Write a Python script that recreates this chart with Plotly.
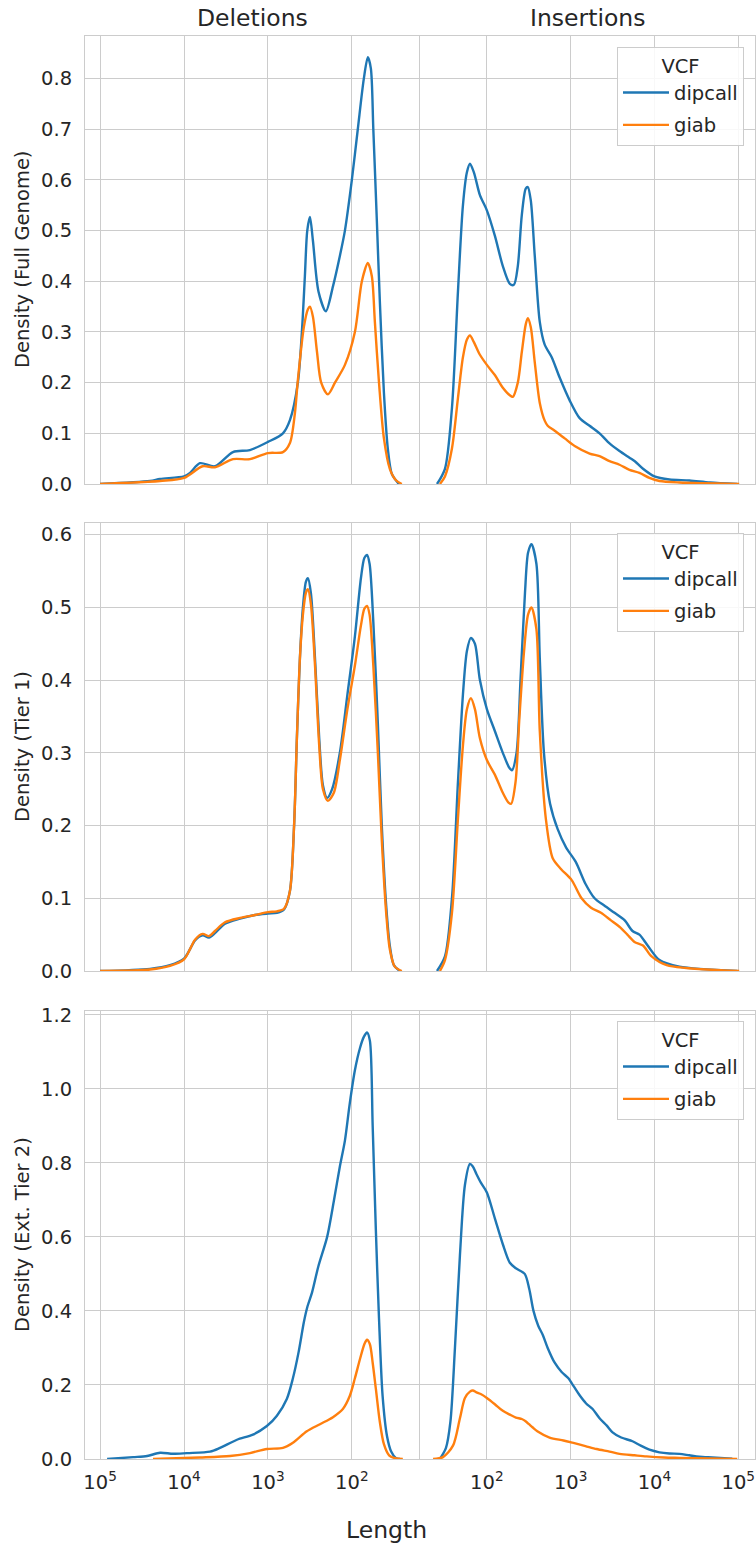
import plotly.graph_objects as go

# ---------------------------------------------------------------------------
# Kernel density estimates of SV lengths (bp) for two call sets, read per
# region: Full Genome, Tier 1 and Ext. Tier 2.  Deletions / insertions.
# ---------------------------------------------------------------------------

# ---- Full Genome ----------------------------------------------------------
full_del_len_dipcall = [100000, 25400, 19300, 10000, 8480, 6460, 4280, 2610, 1640, 1000, 663, 547,
                        440, 394, 363, 340, 316, 291, 250, 204, 168, 139, 121, 100, 85, 72, 64.5,
                        59.4, 55.5, 50.4, 46.4, 41.5, 37.3, 33.4, 27.5]
full_del_dipcall = [0.0, 0.006, 0.010, 0.015, 0.022, 0.041, 0.035, 0.063, 0.067, 0.083, 0.100, 0.126,
                    0.20, 0.30, 0.41, 0.50, 0.527, 0.48, 0.38, 0.341, 0.39, 0.45, 0.50, 0.60, 0.70,
                    0.80, 0.842, 0.82, 0.70, 0.52, 0.36, 0.18, 0.07, 0.02, 0.0]

full_del_len_giab = [100000, 19300, 10000, 6000, 4280, 2610, 1640, 1000, 663, 547, 477, 440, 373,
                     334, 316, 291, 260, 232, 193, 159, 121, 92, 76, 64.5, 57.8, 53.2, 47.5, 41.5,
                     35.3, 30, 25.4]
full_del_giab = [0.0, 0.006, 0.012, 0.035, 0.033, 0.049, 0.049, 0.061, 0.063, 0.081, 0.14, 0.205,
                 0.31, 0.345, 0.35, 0.33, 0.26, 0.20, 0.177, 0.20, 0.235, 0.30, 0.40, 0.436, 0.41,
                 0.32, 0.20, 0.09, 0.03, 0.008, 0.0]

full_ins_len_dipcall = [25.4, 31.6, 38.3, 45.2, 51.8, 57.8, 62.8, 70, 82.6, 100, 124.5, 155, 188,
                        210, 234, 261, 291, 308, 334, 373, 428, 490, 594, 739, 973, 1280, 1683,
                        2213, 2910, 3828, 5035, 5830, 7300, 10000, 15100, 26100, 46000, 97300]
full_ins_dipcall = [0.0, 0.03, 0.15, 0.38, 0.55, 0.615, 0.632, 0.615, 0.57, 0.54, 0.49, 0.43, 0.395,
                    0.393, 0.43, 0.53, 0.583, 0.586, 0.56, 0.45, 0.32, 0.275, 0.25, 0.21, 0.165,
                    0.13, 0.115, 0.10, 0.08, 0.065, 0.052, 0.045, 0.03, 0.015, 0.009, 0.007, 0.003,
                    0.0]

full_ins_len_giab = [27.5, 31.6, 38.3, 45.2, 51.8, 57.8, 62.8, 70, 82.6, 100, 124.5, 155, 188, 204,
                     234, 261, 291, 308, 334, 373, 428, 490, 532, 645, 849, 1117, 1683, 2213, 2910,
                     3828, 5035, 6620, 8710, 11480, 19860, 102700]
full_ins_giab = [0.0, 0.015, 0.07, 0.17, 0.25, 0.285, 0.293, 0.28, 0.255, 0.235, 0.215, 0.19, 0.175,
                 0.172, 0.20, 0.26, 0.315, 0.327, 0.31, 0.24, 0.16, 0.125, 0.115, 0.105, 0.09,
                 0.075, 0.06, 0.055, 0.045, 0.038, 0.028, 0.022, 0.012, 0.006, 0.003, 0.0]

# ---- Tier 1 ---------------------------------------------------------------
tier1_del_len_dipcall = [100000, 25400, 14700, 10000, 8480, 7400, 6000, 5050, 4280, 3250, 2150, 1430,
                         1000, 782, 640, 547, 488, 452, 416, 383, 353, 334, 308, 275, 245, 221, 197,
                         172, 139, 113, 92, 78, 71, 66, 61.5, 55.5, 49, 44, 39, 35.3, 31.6, 26.8]
tier1_del_dipcall = [0.0, 0.003, 0.008, 0.017, 0.030, 0.042, 0.049, 0.046, 0.052, 0.065, 0.072,
                     0.077, 0.079, 0.080, 0.085, 0.11, 0.20, 0.32, 0.43, 0.50, 0.535, 0.54, 0.52,
                     0.43, 0.32, 0.255, 0.238, 0.25, 0.30, 0.38, 0.46, 0.54, 0.568, 0.572, 0.56,
                     0.48, 0.34, 0.20, 0.09, 0.035, 0.008, 0.0]

tier1_del_len_giab = [100000, 25400, 14700, 10000, 8480, 7400, 6000, 5050, 4280, 3250, 2150, 1430,
                      1000, 782, 640, 547, 488, 452, 416, 383, 353, 334, 308, 275, 245, 221, 193,
                      164, 139, 113, 92, 78, 71, 66, 61.5, 55.5, 49, 44, 39, 35.3, 30.8, 25.4]
tier1_del_giab = [0.0, 0.002, 0.007, 0.016, 0.030, 0.043, 0.051, 0.048, 0.055, 0.067, 0.073, 0.077,
                  0.081, 0.082, 0.086, 0.11, 0.20, 0.32, 0.43, 0.49, 0.52, 0.525, 0.505, 0.42, 0.31,
                  0.25, 0.234, 0.245, 0.29, 0.36, 0.42, 0.475, 0.498, 0.502, 0.49, 0.42, 0.30,
                  0.18, 0.08, 0.03, 0.006, 0.0]

tier1_ins_len_dipcall = [25.4, 31.6, 38.3, 45.2, 51.8, 57.8, 64.5, 72, 82.6, 100, 124.5, 155, 184,
                         199, 226, 252, 285, 310, 340, 390, 428, 480, 568, 700, 880, 1150, 1500,
                         1930, 2520, 3340, 4390, 5470, 6620, 8300, 11480, 19860, 97300]
tier1_ins_dipcall = [0.0, 0.02, 0.10, 0.26, 0.38, 0.44, 0.458, 0.45, 0.40, 0.36, 0.33, 0.30, 0.28,
                     0.276, 0.30, 0.40, 0.52, 0.575, 0.587, 0.56, 0.43, 0.30, 0.23, 0.195, 0.17,
                     0.15, 0.12, 0.10, 0.09, 0.08, 0.07, 0.055, 0.05, 0.035, 0.015, 0.006, 0.0]

tier1_ins_len_giab = [27.5, 31.6, 38.3, 45.2, 51.8, 57.8, 64.5, 72, 82.6, 100, 124.5, 155, 180, 195,
                      220, 245, 278, 310, 340, 390, 428, 505, 611, 770, 1028, 1350, 1750, 2300,
                      3000, 3900, 4750, 5780, 7300, 9250, 14000, 102700]
tier1_ins_giab = [0.0, 0.015, 0.08, 0.21, 0.31, 0.36, 0.375, 0.36, 0.32, 0.29, 0.27, 0.245, 0.232,
                  0.23, 0.26, 0.35, 0.44, 0.49, 0.50, 0.47, 0.33, 0.21, 0.155, 0.14, 0.125, 0.10,
                  0.087, 0.08, 0.07, 0.06, 0.05, 0.04, 0.035, 0.02, 0.008, 0.0]

# ---- Ext. Tier 2 ----------------------------------------------------------
tier2_del_len_dipcall = [82500, 40400, 27500, 19300, 13500, 9210, 4900, 3730, 2340, 1510, 1030, 782,
                         594, 504, 430, 373, 340, 298, 251, 197, 163, 139, 121, 106, 92, 80, 72,
                         66, 61, 56.5, 51.8, 47.5, 43, 38, 34, 30, 26.8]
tier2_del_dipcall = [0.0, 0.005, 0.008, 0.017, 0.014, 0.016, 0.020, 0.030, 0.052, 0.066, 0.089,
                     0.117, 0.163, 0.218, 0.29, 0.37, 0.41, 0.45, 0.52, 0.60, 0.70, 0.79, 0.86, 0.96,
                     1.05, 1.11, 1.14, 1.152, 1.13, 0.90, 0.62, 0.38, 0.17, 0.06, 0.02, 0.003, 0.0]

tier2_del_len_giab = [23400, 6460, 2830, 1640, 1030, 663, 504, 344, 240, 168, 128, 106, 92, 80, 71,
                      66, 61, 56.5, 51.8, 46.4, 41.5, 36, 30.5, 24.7]
tier2_del_giab = [0.0, 0.004, 0.008, 0.016, 0.027, 0.030, 0.044, 0.075, 0.094, 0.113, 0.135, 0.17,
                  0.218, 0.27, 0.31, 0.322, 0.31, 0.26, 0.19, 0.10, 0.04, 0.01, 0.002, 0.0]

tier2_ins_len_dipcall = [27.5, 32.5, 36.7, 41.6, 47.7, 54.7, 62.8, 68, 75, 85.5, 100, 124.5, 155,
                         188, 222, 283, 320, 360, 410, 465, 532, 645, 780, 940, 1028, 1280, 1530,
                         1830, 2213, 2700, 3162, 4010, 5470, 6870, 8710, 11480, 15100, 19860, 26100,
                         34330, 49000, 84900]
tier2_ins_dipcall = [0.0, 0.03, 0.10, 0.30, 0.55, 0.74, 0.797, 0.79, 0.77, 0.745, 0.72, 0.65, 0.58,
                     0.53, 0.515, 0.50, 0.46, 0.40, 0.36, 0.335, 0.30, 0.26, 0.235, 0.218, 0.205,
                     0.172, 0.15, 0.135, 0.11, 0.09, 0.072, 0.058, 0.048, 0.036, 0.025, 0.018,
                     0.015, 0.014, 0.010, 0.006, 0.004, 0.001]

tier2_ins_len_giab = [22.8, 29.9, 39.4, 47.7, 54.7, 62.8, 68, 75, 85.5, 100, 124.5, 155, 188, 222,
                      261, 290, 318, 353, 400, 560, 820, 1050, 1500, 2040, 2910, 3828, 5780, 8035,
                      13000, 19860, 97300]
tier2_ins_giab = [0.0, 0.005, 0.036, 0.11, 0.165, 0.182, 0.185, 0.18, 0.175, 0.165, 0.148, 0.13,
                  0.12, 0.112, 0.108, 0.102, 0.094, 0.085, 0.075, 0.058, 0.05, 0.044, 0.035,
                  0.027, 0.02, 0.014, 0.01, 0.007, 0.004, 0.003, 0.0]

vcf_names = ["dipcall", "giab"]
vcf_colors = {"dipcall": "#1f77b4", "giab": "#ff7f0e"}
column_titles = ["Deletions", "Insertions"]
row_titles = ["Density (Full Genome)", "Density (Tier 1)", "Density (Ext. Tier 2)"]
y_maxima = [0.884, 0.616, 1.21]
y_ticks = [[0.0, 0.1, 0.2, 0.3, 0.4, 0.5, 0.6, 0.7, 0.8],
           [0.0, 0.1, 0.2, 0.3, 0.4, 0.5, 0.6],
           [0.0, 0.2, 0.4, 0.6, 0.8, 1.0, 1.2]]
x_tick_vals = [1e2, 1e3, 1e4, 1e5]
x_tick_text = ["10<sup>2</sup>", "10<sup>3</sup>", "10<sup>4</sup>", "10<sup>5</sup>"]

panels = [
    # (row, col, {vcf: (lengths, density)})
    (0, 0, {"dipcall": (full_del_len_dipcall, full_del_dipcall), "giab": (full_del_len_giab, full_del_giab)}),
    (0, 1, {"dipcall": (full_ins_len_dipcall, full_ins_dipcall), "giab": (full_ins_len_giab, full_ins_giab)}),
    (1, 0, {"dipcall": (tier1_del_len_dipcall, tier1_del_dipcall), "giab": (tier1_del_len_giab, tier1_del_giab)}),
    (1, 1, {"dipcall": (tier1_ins_len_dipcall, tier1_ins_dipcall), "giab": (tier1_ins_len_giab, tier1_ins_giab)}),
    (2, 0, {"dipcall": (tier2_del_len_dipcall, tier2_del_dipcall), "giab": (tier2_del_len_giab, tier2_del_giab)}),
    (2, 1, {"dipcall": (tier2_ins_len_dipcall, tier2_ins_dipcall), "giab": (tier2_ins_len_giab, tier2_ins_giab)}),
]

# ---------------------------------------------------------------------------
W, H = 756, 1547
FONT = "DejaVu Sans"
TEXT = "#262626"
GRID = "#cccccc"

col_px = [(85, 419), (419, 755)]
row_px = [(36, 484), (523, 971), (1011, 1459)]
x_ranges = [[5.18, 1.20], [1.19, 5.20]]   # log10 units; deletions axis reversed
legend_tops = [47, 533, 1021]

fig = go.Figure()
layout = {}

for row, col, series in panels:
    idx = row * 2 + col + 1
    xa = "x" if idx == 1 else f"x{idx}"
    ya = "y" if idx == 1 else f"y{idx}"
    legend_id = "legend" if row == 0 else f"legend{row + 1}"
    for name in vcf_names:
        lengths, dens = series[name]
        fig.add_trace(go.Scatter(
            x=lengths, y=dens, mode="lines", name=name,
            line=dict(color=vcf_colors[name], width=2.4, shape="spline", smoothing=0.8),
            xaxis=xa, yaxis=ya, legend=legend_id,
            legendgroup=f"{name}{row}", showlegend=(col == 1),
        ))

    x0, x1 = col_px[col]
    y0, y1 = row_px[row]
    axis_common = dict(showgrid=True, gridcolor=GRID, gridwidth=1, zeroline=False,
                       showline=True, linecolor=GRID, linewidth=1,
                       ticks="", automargin=False,
                       tickfont=dict(family=FONT, size=19.5, color=TEXT))
    layout["xaxis" if idx == 1 else f"xaxis{idx}"] = dict(
        axis_common, mirror=True, domain=[x0 / W, x1 / W], anchor=ya, type="log",
        range=x_ranges[col], tickvals=x_tick_vals, ticktext=x_tick_text,
        showticklabels=(row == 2), ticklabelstandoff=6,
    )
    # the insertions panel shares its left edge with the deletions panel,
    # so only its right-hand frame line is drawn
    layout["yaxis" if idx == 1 else f"yaxis{idx}"] = dict(
        axis_common, domain=[1 - y1 / H, 1 - y0 / H], anchor=xa,
        range=[0, y_maxima[row]], tickvals=y_ticks[row],
        ticktext=[f"{v:.1f}" for v in y_ticks[row]],
        side="left" if col == 0 else "right",
        mirror=(col == 0),
        showticklabels=(col == 0), ticklabelstandoff=8,
    )

# one legend per row, placed in the insertions panel
for row in range(3):
    key = "legend" if row == 0 else f"legend{row + 1}"
    layout[key] = dict(
        x=744 / W, y=1 - legend_tops[row] / H, xanchor="right", yanchor="top",
        xref="paper", yref="paper",
        bgcolor="rgba(255,255,255,0.85)", bordercolor=GRID, borderwidth=1,
        font=dict(family=FONT, size=19.5, color=TEXT),
        title=dict(text="VCF", side="top center", font=dict(family=FONT, size=19.5, color=TEXT)),
        itemwidth=46, tracegroupgap=4,
        entrywidth=132, entrywidthmode="pixels",
    )

annotations = []
for col, title in enumerate(column_titles):
    x0, x1 = col_px[col]
    annotations.append(dict(text=title, x=(x0 + x1) / 2 / W, y=1 - 18 / H,
                            xref="paper", yref="paper", showarrow=False,
                            xanchor="center", yanchor="middle",
                            font=dict(family=FONT, size=23.5, color=TEXT)))
for row, title in enumerate(row_titles):
    y0, y1 = row_px[row]
    annotations.append(dict(text=title, x=22 / W, y=1 - (y0 + y1) / 2 / H,
                            xref="paper", yref="paper", showarrow=False, textangle=-90,
                            xanchor="center", yanchor="middle",
                            font=dict(family=FONT, size=19.5, color=TEXT)))
annotations.append(dict(text="Length", x=386 / W, y=1 - 1530 / H,
                        xref="paper", yref="paper", showarrow=False,
                        xanchor="center", yanchor="middle",
                        font=dict(family=FONT, size=23.5, color=TEXT)))

fig.update_layout(
    width=W, height=H,
    margin=dict(l=0, r=0, t=0, b=0),
    paper_bgcolor="white", plot_bgcolor="white",
    annotations=annotations,
    **layout,
)

fig.write_html("out.html")
